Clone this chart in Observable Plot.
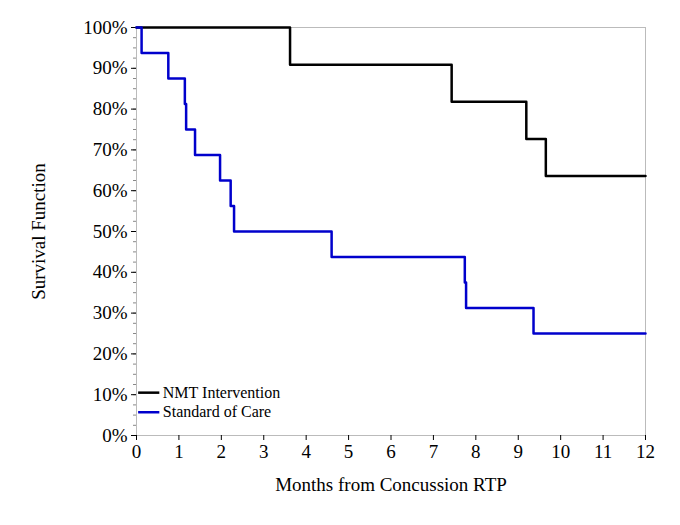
<!DOCTYPE html>
<html><head><meta charset="utf-8">
<script src="https://cdn.jsdelivr.net/npm/d3@7"></script>
<script src="https://cdn.jsdelivr.net/npm/@observablehq/plot@0.6"></script>
<style>body{margin:0;background:#fff}</style>
</head><body><div id="c"></div>
<script>
const groups = ["NMT Intervention", "Standard of Care"];
const colors = ["#000000", "#0000cc"];
const nmtTime = [0, 3.62, 7.43, 9.19, 9.65, 12];
const nmtSurv = [1, 0.909, 0.818, 0.727, 0.636, 0.636];
const socTime = [0, 0.12, 0.75, 1.14, 1.17, 1.38, 1.97, 2.22, 2.30, 4.60, 7.74, 7.77, 9.36, 12];
const socSurv = [1, 0.9375, 0.875, 0.8125, 0.75, 0.6875, 0.625, 0.5625, 0.50, 0.4375, 0.375, 0.3125, 0.25, 0.25];
const xTicks = d3.range(0, 13);
const yTicks = d3.range(0, 1.01, 0.1);
const yMinor = d3.range(0, 1.001, 0.025);

const data = [
  ...nmtTime.map((t, i) => ({t, s: nmtSurv[i], g: groups[0]})),
  ...socTime.map((t, i) => ({t, s: socSurv[i], g: groups[1]}))
];
const legendY = [0.105, 0.057];
const font = "'Liberation Serif', 'Times New Roman', serif";
const chart = Plot.plot({
  width: 680, height: 525,
  marginLeft: 136, marginRight: 35, marginTop: 27, marginBottom: 90,
  style: {fontFamily: font, fontSize: "19px", color: "#000"},
  x: {type: "linear", domain: [0, 12]},
  y: {type: "linear", domain: [0, 1]},
  color: {domain: groups, range: colors},
  marks: [
    Plot.frame({stroke: "#bbb"}),
    Plot.axisY({ticks: yMinor, tickSize: 3, tickFormat: () => "", label: null, stroke: "#888"}),
    Plot.axisX({ticks: xTicks, tickSize: 5, fontSize: 19, tickPadding: 4, label: "Months from Concussion RTP", labelAnchor: "center", labelArrow: "none", labelOffset: 55}),
    Plot.axisY({ticks: yTicks, tickSize: 5, fontSize: 19, tickFormat: d => Math.round(d*100) + "%", label: "Survival Function", labelAnchor: "center", labelArrow: "none", labelOffset: 105}),
    Plot.line(data, {x: "t", y: "s", z: "g", stroke: "g", strokeWidth: 2.5, curve: "step-after"}),
    Plot.ruleY(groups, {x1: 0.05, x2: 0.55, y: (d, i) => legendY[i], stroke: d => d, strokeWidth: 2.5}),
    Plot.text(groups, {x: 0.62, y: (d, i) => legendY[i], text: d => d, textAnchor: "start", fontSize: 16, fill: "#000"})
  ]
});
document.getElementById("c").appendChild(chart);
</script></body></html>
